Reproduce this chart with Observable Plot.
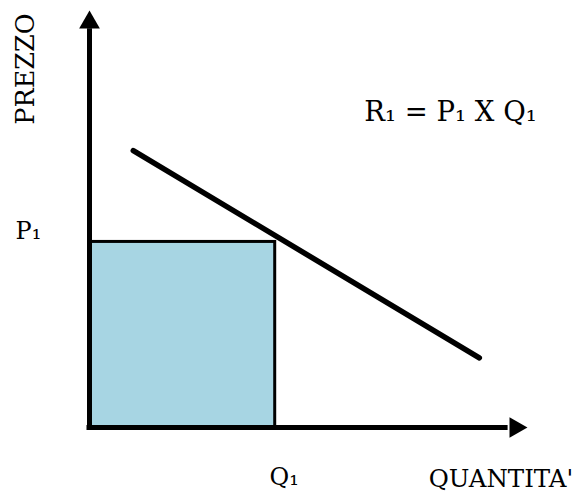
<!DOCTYPE html>
<html>
<head>
<meta charset="utf-8">
<script src="https://cdn.jsdelivr.net/npm/d3@7"></script>
<script src="https://cdn.jsdelivr.net/npm/@observablehq/plot@0.6"></script>
<style>
  body { margin: 0; background: #fff; }
  svg { display: block; }
</style>
</head>
<body>
<div id="chart"></div>
<script>
// Demand curve (quantity, price) end points
const demandQuantity = [10, 89];
const demandPrice = [66.4, 16.7];
// Chosen point on the curve: revenue rectangle R1 = P1 x Q1
const q1 = [42.4];
const p1 = [44.5];
// Axis extent
const axisMax = [100];
// Text
const axisTitles = ["QUANTITA'", "PREZZO"];
const pointLabels = ["Q₁", "P₁"];
const formula = ["R₁ = P₁ X Q₁"];

const demand = demandQuantity.map((q, i) => ({q, p: demandPrice[i]}));
const revenue = q1.map((q, i) => ({q, p: p1[i]}));
const ink = "#000";
const font = "DejaVu Serif";

const chart = Plot.plot({
  width: 576,
  height: 495,
  marginLeft: 89,
  marginRight: 49,
  marginTop: 10,
  marginBottom: 68,
  style: {fontFamily: font, background: "#fff", color: ink, overflow: "visible"},
  x: {domain: [0, axisMax[0]], axis: null},
  y: {domain: [0, axisMax[0]], axis: null},
  marks: [
    // revenue area
    Plot.rect(revenue, {x1: 0, x2: "q", y1: 0, y2: "p", fill: "#a7d5e3", stroke: ink, strokeWidth: 3}),
    // axes with arrowheads
    Plot.ruleX([0], {y1: 0, y2: axisMax[0] * 0.95, stroke: ink, strokeWidth: 5, strokeLinecap: "square"}),
    Plot.ruleY([0], {x1: 0, x2: axisMax[0] * 0.95, stroke: ink, strokeWidth: 5, strokeLinecap: "square"}),
    Plot.dot(axisMax, {x: 0, y: d => d, symbol: "triangle", r: 7.7, fill: ink, stroke: null, dy: 12}),
    Plot.dot(axisMax, {x: d => d, y: 0, symbol: "triangle", r: 7.7, fill: ink, stroke: null, rotate: 90, dx: -12}),
    // demand curve
    Plot.line(demand, {x: "q", y: "p", stroke: ink, strokeWidth: 5.5}),
    // point labels
    Plot.text(revenue, {x: "q", y: 0, text: () => pointLabels[0], fontSize: 24, textAnchor: "middle", lineAnchor: "middle", dx: 9, dy: 50, fill: ink}),
    Plot.text(revenue, {x: 0, y: "p", text: () => pointLabels[1], fontSize: 24, textAnchor: "start", lineAnchor: "middle", dx: -74, dy: -11, fill: ink}),
    // axis titles
    Plot.text(axisMax, {x: d => d, y: 0, text: () => axisTitles[0], fontSize: 24.5, textAnchor: "middle", lineAnchor: "middle", dx: -26.5, dy: 52, fill: ink}),
    Plot.text([axisTitles[1]], {frameAnchor: "top-left", text: d => d, fontSize: 25.5, rotate: -90, textAnchor: "middle", lineAnchor: "middle", dx: -64, dy: 58.5, fill: ink}),
    // revenue formula
    Plot.text(formula, {frameAnchor: "top-left", text: d => d, fontSize: 27.5, textAnchor: "middle", lineAnchor: "middle", dx: 361, dy: 102, fill: ink})
  ]
});

document.getElementById("chart").append(chart);
</script>
</body>
</html>
